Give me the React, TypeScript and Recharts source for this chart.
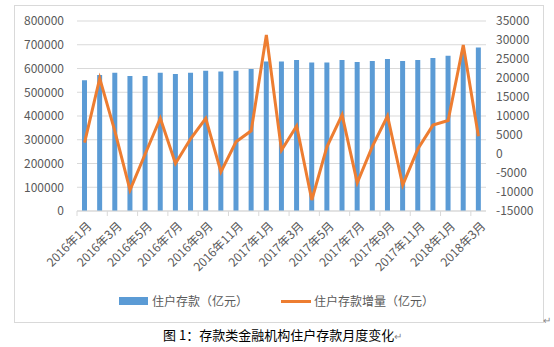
import React from "react";
import { ComposedChart, Bar, Line, XAxis, YAxis, CartesianGrid } from "recharts";

const months = [
  "2016年1月", "2016年2月", "2016年3月", "2016年4月", "2016年5月", "2016年6月", "2016年7月",
  "2016年8月", "2016年9月", "2016年10月", "2016年11月", "2016年12月", "2017年1月", "2017年2月",
  "2017年3月", "2017年4月", "2017年5月", "2017年6月", "2017年7月", "2017年8月", "2017年9月",
  "2017年10月", "2017年11月", "2017年12月", "2018年1月", "2018年2月", "2018年3月",
];
// 住户存款（亿元）
const deposits = [
  551000, 573000, 582000, 568000, 568000, 582000, 577000, 582000, 591000, 587000, 591000, 598000,
  629000, 629000, 636000, 625000, 625000, 636000, 627000, 632000, 640000, 632000, 636000, 644000,
  654000, 668000, 688000,
];
// 住户存款增量（亿元）
const increments = [
  3000, 19900, 6000, -9500, 0, 9400, -2500, 4000, 9400, -4700, 3200, 6100, 31300, 1000, 7400,
  -12100, 1900, 10300, -7600, 2000, 10000, -8200, 1300, 7600, 8800, 28700, 4700,
];
const leftTicks = [0, 100000, 200000, 300000, 400000, 500000, 600000, 700000, 800000];
const rightTicks = [-15000, -10000, -5000, 0, 5000, 10000, 15000, 20000, 25000, 30000, 35000];

const data = months.map((m, i) => ({ month: m, deposit: deposits[i], increment: increments[i] }));

const FONT = '"Noto Sans CJK SC", "Noto Sans", sans-serif';
const BLUE = "#5B9BD5";
const ORANGE = "#ED7D31";
const GRID = "#D9D9D9";
const TEXT = "#595959";

function MonthTick(props: any) {
  const { x, y, payload } = props;
  const half = payload?.offset ?? 7.5;
  return (
    <g>
      <line x1={x - half} x2={x - half} y1={y} y2={y + 5} stroke={GRID} />
      <text
        transform={`translate(${x + 4},${y + 12}) rotate(-45)`}
        textAnchor="end"
        dominantBaseline="central"
        fill={TEXT}
        fontSize={12}
        fontFamily={FONT}
      >
        {payload.value}
      </text>
    </g>
  );
}

export default function App() {
  return (
    <div style={{ position: "absolute", left: 0, top: 0, width: 554, height: 347, background: "#fff", fontFamily: FONT }}>
      <div style={{ position: "absolute", left: 14, top: 5, width: 530, height: 318, border: "1px solid #D9D9D9", boxSizing: "border-box" }}>
        <ComposedChart width={528} height={316} data={data} margin={{ top: 15, right: 0, bottom: 0, left: 0 }} barSize={5}>
          <CartesianGrid yAxisId="left" vertical={false} stroke={GRID} />
          <XAxis
            dataKey="month"
            interval={1}
            height={111}
            tickLine={false}
            tickSize={0}
            tickMargin={0}
            axisLine={{ stroke: GRID }}
            tick={<MonthTick />}
          />
          <YAxis
            yAxisId="left"
            width={62}
            domain={[0, 800000]}
            ticks={leftTicks}
            interval={0}
            axisLine={false}
            tickLine={false}
            tickSize={0}
            tickMargin={13}
            tick={{ fill: TEXT, fontSize: 12, fontFamily: FONT }}
          />
          <YAxis
            yAxisId="right"
            orientation="right"
            width={57}
            domain={[-15000, 35000]}
            ticks={rightTicks}
            interval={0}
            axisLine={false}
            tickLine={false}
            tickSize={0}
            tickMargin={10}
            tick={{ fill: TEXT, fontSize: 12, fontFamily: FONT, textAnchor: "start" }}
          />
          <Bar yAxisId="left" dataKey="deposit" fill={BLUE} isAnimationActive={false} />
          <Line
            yAxisId="right"
            type="linear"
            dataKey="increment"
            stroke={ORANGE}
            strokeWidth={3}
            dot={false}
            isAnimationActive={false}
          />
        </ComposedChart>
      </div>
      <div style={{ position: "absolute", top: 292, left: 119, display: "flex", alignItems: "center", fontSize: 12, color: TEXT, lineHeight: "18px" }}>
        <span style={{ display: "inline-block", width: 29, height: 8, background: BLUE, marginRight: 4 }} />
        <span>住户存款（亿元）</span>
        <span style={{ display: "inline-block", width: 30, height: 3, background: ORANGE, marginLeft: 33, marginRight: 3 }} />
        <span>住户存款增量（亿元）</span>
      </div>
      <div style={{ position: "absolute", right: 3, top: 312, fontSize: 10, color: "#888" }}>↵</div>
      <div style={{ position: "absolute", top: 326, left: 163, fontSize: 13, color: "#000", whiteSpace: "nowrap", lineHeight: "18px" }}>
        图 1：存款类金融机构住户存款月度变化<span style={{ fontSize: 10, color: "#888" }}>↵</span>
      </div>
    </div>
  );
}
